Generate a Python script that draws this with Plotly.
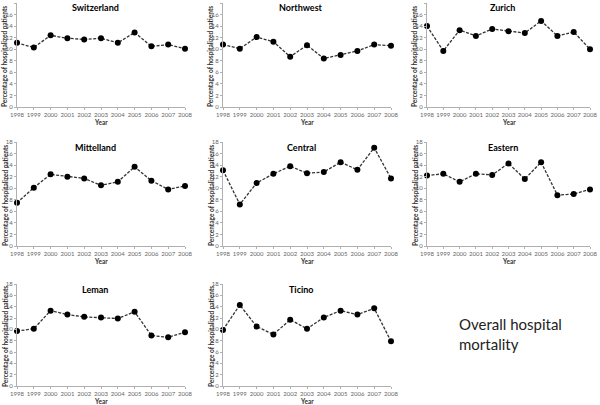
import plotly.graph_objects as go

years = list(range(1998, 2009))
regions = ["Switzerland", "Northwest", "Zurich", "Mittelland", "Central", "Eastern", "Leman", "Ticino"]
switzerland = [11.1, 10.3, 12.4, 11.9, 11.7, 11.9, 11.1, 12.9, 10.5, 10.8, 10.1]
northwest = [10.8, 10.1, 12.1, 11.3, 8.7, 10.7, 8.4, 9.0, 9.7, 10.8, 10.6]
zurich = [14.0, 9.7, 13.3, 12.3, 13.5, 13.1, 12.8, 14.9, 12.3, 13.0, 10.0]
mittelland = [7.5, 10.1, 12.4, 12.0, 11.7, 10.5, 11.1, 13.7, 11.3, 9.8, 10.4]
central = [13.1, 7.2, 10.9, 12.5, 13.8, 12.6, 12.8, 14.5, 13.2, 17.0, 11.7]
eastern = [12.2, 12.5, 11.1, 12.5, 12.3, 14.3, 11.6, 14.5, 8.8, 9.0, 9.8]
leman = [9.7, 10.1, 13.3, 12.6, 12.2, 12.1, 11.9, 13.1, 8.9, 8.6, 9.5]
ticino = [9.9, 14.3, 10.5, 9.1, 11.7, 10.1, 12.1, 13.3, 12.6, 13.7, 7.9]
series = [switzerland, northwest, zurich, mittelland, central, eastern, leman, ticino]
y_ticks = list(range(0, 19, 2))

W, H = 600, 405
# pixel boxes of each plot area: (x0, x1) and (ytop, ybottom)
cols = [(17, 185), (223, 391), (427, 590)]
rows = [(3, 107), (142, 246), (284, 386)]

FONT = "Lato, 'Open Sans', sans-serif"
fig = go.Figure()
layout = dict(width=W, height=H, margin=dict(l=0, r=0, t=0, b=0, autoexpand=False),
              paper_bgcolor="white", plot_bgcolor="white", showlegend=False)
annotations = []

for i, (name, vals) in enumerate(zip(regions, series)):
    r, c = divmod(i, 3)
    x0, x1 = cols[c]
    yt, yb = rows[r]
    k = "" if i == 0 else str(i + 1)
    fig.add_trace(go.Scatter(
        x=years, y=vals, mode="lines+markers",
        line=dict(color="#333333", width=1.3, dash="3px,1.5px"),
        marker=dict(color="black", size=6),
        cliponaxis=False, hoverinfo="skip",
        xaxis="x" + k, yaxis="y" + k))
    layout["xaxis" + k] = dict(
        domain=[x0 / W, x1 / W], range=[1998, 2008], anchor="y" + k, automargin=False,
        tickvals=years, ticktext=[str(y) for y in years],
        showgrid=False, zeroline=False, showline=True, linecolor="#b0b0b0", linewidth=1,
        ticks="outside", ticklen=2, tickcolor="#b0b0b0",
        tickfont=dict(size=6, color="#666666", family=FONT), tickangle=0)
    layout["yaxis" + k] = dict(
        domain=[1 - yb / H, 1 - yt / H], range=[0, 18], anchor="x" + k, automargin=False,
        tickvals=y_ticks, showgrid=False, zeroline=False, showline=True,
        linecolor="#b0b0b0", linewidth=1, ticks="outside", ticklen=2, tickcolor="#b0b0b0",
        tickfont=dict(size=6, color="#666666", family=FONT))
    cx = (x0 + x1) / 2 - 6
    annotations.append(dict(text="<b>" + name + "</b>", x=cx / W, y=1 - (yt + 5) / H,
                            xref="paper", yref="paper", showarrow=False,
                            xanchor="center", yanchor="middle",
                            font=dict(size=9, color="black", family=FONT)))
    annotations.append(dict(text="<b>Year</b>", x=((x0 + x1) / 2) / W, y=1 - (yb + 15) / H,
                            xref="paper", yref="paper", showarrow=False,
                            xanchor="center", yanchor="middle",
                            font=dict(size=6.5, color="#333333", family=FONT)))
    annotations.append(dict(text="<b>Percentage of hospitalized patients</b>",
                            x=(x0 - 12) / W, y=1 - ((yt + yb) / 2 + 2) / H,
                            xref="paper", yref="paper", showarrow=False, textangle=-90,
                            xanchor="center", yanchor="middle",
                            font=dict(size=6.5, color="#333333", family=FONT)))

annotations.append(dict(text="Overall hospital<br>mortality", x=457 / W, y=1 - 334 / H,
                        xref="paper", yref="paper", showarrow=False, align="left",
                        xanchor="left", yanchor="middle",
                        font=dict(size=15, color="#222222", family=FONT)))
layout["annotations"] = annotations
fig.update_layout(**layout)
fig.write_html("out.html", config={"displayModeBar": False, "staticPlot": True},
               post_script="document.body.style.margin='0';document.body.style.padding='0';")
